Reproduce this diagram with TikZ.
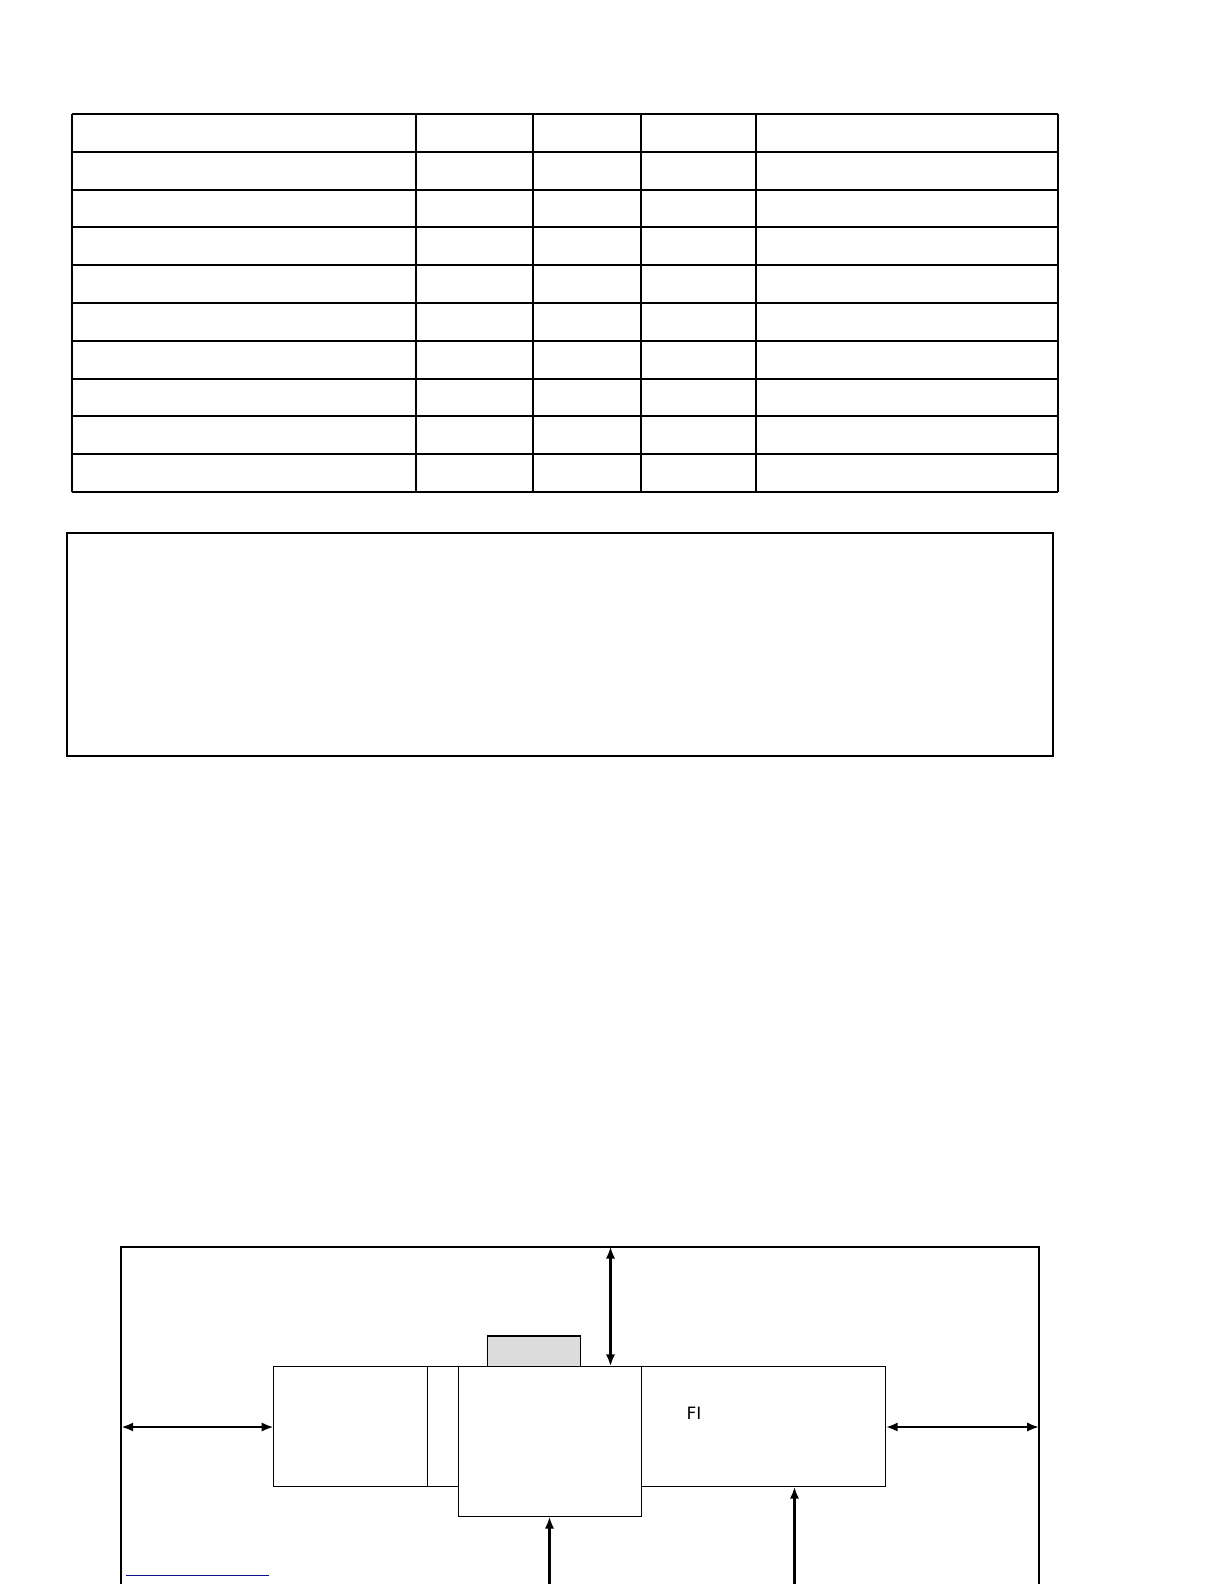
\documentclass[tikz,border=0pt]{standalone}
\usepackage{fontspec}
\setmainfont{DejaVu Sans}
\usetikzlibrary{arrows.meta,fit}
\definecolor{linkblue}{HTML}{10108C}
\definecolor{tabgray}{HTML}{DCDCDC}
\begin{document}
\begin{tikzpicture}[x=0.5pt,y=-0.5pt,
  tabline/.style={line width=0.8pt},
  boxx/.style={draw,line width=0.6pt,inner sep=0pt,outer sep=0pt},
  framebox/.style={draw,line width=1pt,inner sep=0pt,outer sep=0pt},
  dimarrow/.style={line width=1.2pt,{Latex[length=6pt,width=4.6pt]}-{Latex[length=6pt,width=4.6pt]}},
  uparrow/.style={line width=1.2pt,-{Latex[length=6pt,width=4.6pt]}}]
\useasboundingbox (0,0) rectangle (1224,1584);

% ---- table ----
\foreach \yy in {114,152,190,227,265,303,341,379,416,454,492}
  \draw[tabline] (72,\yy) -- (1058,\yy);
\foreach \xx in {72,416,533,641,756,1058}
  \draw[tabline] (\xx,114) -- (\xx,492);

% ---- notes box ----
\node[fit={(67,533)(1053,756)},draw,line width=0.8pt,inner sep=0pt,outer sep=0pt] (notes) {};
\draw[line width=1.3pt] (notes.south west) -- (notes.south east) -- (notes.north east);

% ---- bottom diagram ----
\node[framebox,fit={(121.2,1246.5)(1039.2,1610)}] (frame) {};
\node[boxx,fit={(273.7,1366.4)(458.5,1486.6)}] (leftbox) {};
\node[boxx,fit={(427.2,1366.4)(458.5,1486.6)}] (leftsub) {};
\node[boxx,fit={(641.3,1366.4)(885.7,1486.6)}] (rightbox) {};
\node[boxx,fill=tabgray,fit={(487.8,1336)(580.7,1366.4)}] (gray) {};
\node[boxx,fill=white,fit={(458.5,1366.4)(641.3,1516.5)}] (center) {};
\draw[line width=0.9pt] (center.north west) -- (center.south west);
\node[font=\fontsize{8.5pt}{10pt}\selectfont] (fi) at (694,1413) {FI};

\coordinate (la) at (121.2,1427);
\draw[dimarrow] (la) -- (la -| leftbox.west);
\draw[dimarrow] (la -| rightbox.east) -- (la -| frame.east);
\coordinate (vt) at (610.5,1246.5);
\draw[dimarrow] (vt) -- (vt |- center.north);
\coordinate (b1) at (549.5,1590);
\draw[uparrow] (b1) -- (b1 |- center.south);
\coordinate (b2) at (794.5,1590);
\draw[uparrow] (b2) -- (b2 |- rightbox.south);

\coordinate (ls) at (126,1575.5);
\coordinate (le) at (268.6,1575.5);
\draw[linkblue,line width=0.6pt] (ls) -- (le);
\end{tikzpicture}
\end{document}
